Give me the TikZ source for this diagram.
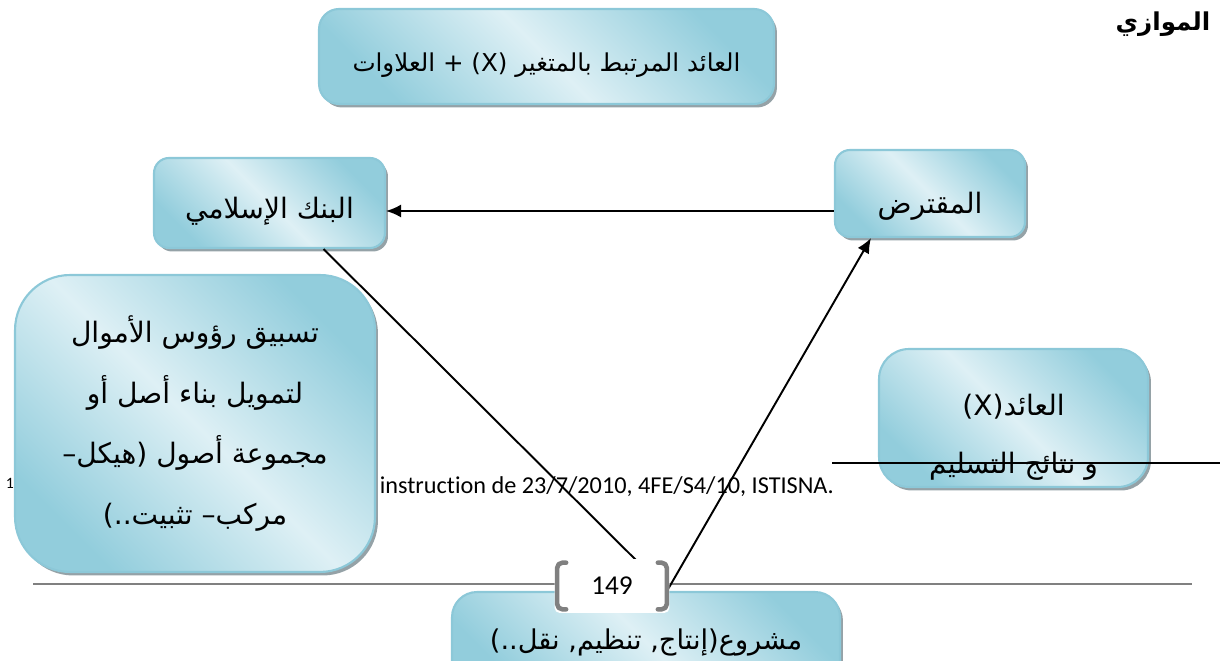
\documentclass[tikz,border=0pt]{standalone}
\usepackage{fontspec}
\setmainfont{Carlito}[Ligatures=CommonOff]
\newfontfamily\arabicfont[Script=Arabic]{DejaVu Sans}
\TeXXeTstate=1
\usetikzlibrary{arrows.meta,calc,shadows}

\definecolor{boxdark}{RGB}{146,205,220}
\definecolor{boxlight}{RGB}{222,240,245}
\definecolor{boxedge}{RGB}{140,200,216}
\definecolor{shadowgray}{RGB}{130,146,152}
\definecolor{rulegray}{RGB}{128,128,128}

% one right-to-left line of Arabic text
\newcommand{\arline}[1]{\beginR #1\endR}

\tikzset{
  panel/.style={rectangle, rounded corners=#1, draw=boxedge, line width=1.2pt,
    top color=boxdark, bottom color=boxdark, middle color=boxlight,
    shading angle=-45,
    drop shadow={shadow xshift=0.06cm, shadow yshift=-0.07cm, fill=shadowgray, opacity=0.85},
    align=center, inner sep=0pt, text=black,
    font=\arabicfont\fontsize{16}{34}\selectfont},
  link/.style={line width=1.1pt, black},
  tip/.style={-{Latex[length=3mm,width=2.6mm]}},
  bracketside/.style={rulegray, line width=2.6pt, line cap=round, line join=round, rounded corners=3pt}
}

\begin{document}
\begin{tikzpicture}[x=0.02cm, y=-0.02cm]
\useasboundingbox (0,0) rectangle (1220,661);
\clip (0,0) rectangle (1220,661);

% heading fragment
\node[font=\arabicfont\bfseries\fontsize{14}{18}\selectfont] (title) at (1163,24) {\arline{الموازي}};

% footnote remnants behind the boxes
\node[font=\fontsize{9}{10}\selectfont] (fnmark) at (10,483) {1};
\node[anchor=base east, font=\fontsize{13.8}{15}\selectfont] (fntext) at (840,494)
  {3 instruction de 23/7/2010, 4FE/S4/10, ISTISNA.};

% page rule
\coordinate (ruleL) at (33,584);
\coordinate (ruleR) at (1192,584);
\draw[rulegray, line width=1.2pt] (ruleL) -- (ruleR);

% boxes
\node[panel=0.4cm, minimum width=9.1cm, minimum height=1.9cm,
      font=\arabicfont\fontsize{14}{30}\selectfont, text height=0.62cm, text depth=0cm] (margin) at (546.5,56.5)
  {\arline{العائد المرتبط بالمتغير (X) + العلاوات}};
\node[panel=0.3cm, minimum width=4.62cm, minimum height=1.8cm, text height=0.62cm, text depth=0cm] (bank) at (269.5,203)
  {\arline{البنك الإسلامي}};
\node[panel=0.3cm, minimum width=3.8cm, minimum height=1.74cm, text height=0.8cm, text depth=0cm] (borrower) at (930,193.5)
  {\arline{المقترض}};
\node[panel=1.1cm, minimum width=7.2cm, minimum height=5.94cm,
      font=\arabicfont\fontsize{16}{34.5}\selectfont] (advance) at (195,423.5)
  {\arline{تسبيق رؤوس الأموال}\\ \arline{لتمويل بناء أصل أو}\\
   \arline{مجموعة أصول (هيكل–}\\ \arline{مركب– تثبيت..)}};
\node[panel=0.6cm, minimum width=5.38cm, minimum height=2.76cm,
      font=\arabicfont\fontsize{16}{33}\selectfont] (yield) at (1013.5,418)
  {\rule{0pt}{1.2cm}\arline{العائد(X)}\\ \arline{و  نتائج التسليم}};
\node[panel=0.5cm, minimum width=7.76cm, minimum height=2.0cm, text depth=0pt,
      font=\arabicfont\fontsize{15.5}{30}\selectfont] (project) at (646,642)
  {\raisebox{0.1cm}{\arline{مشروع(إنتاج, تنظيم, نقل..)}}};

% connectors
\coordinate (bankFoot) at ($(bank.south)+(54,0)$);
\coordinate (projTop) at ($(project.north)+(21,0)$);
\coordinate (borrowerFoot) at ($(borrower.south west)+(37,0)$);
\coordinate (borrowerSide) at ($(borrower.west)+(0,17.5)$);
\draw[link, tip] (borrowerSide) -- (borrowerSide -| bank.east);
\draw[link] (bankFoot) -- (projTop);
\draw[link, tip] (projTop) -- (borrowerFoot);

% footnote separator over the right box
\coordinate (sepL) at (832,463);
\coordinate (sepR) at (1220,463);
\draw[black, line width=0.9pt] (sepL) -- (sepR);

% page number in brackets
\node[fill=white, rounded corners=3pt, minimum width=2.3cm, minimum height=1.08cm,
      font=\fontsize{15.5}{18}\selectfont] (page) at (612,586) {149};
\draw[bracketside] ($(page.north west)+(12,4)$) -- ($(page.north west)+(3,4)$) -- ($(page.south west)+(3,-4)$) -- ($(page.south west)+(12,-4)$);
\draw[bracketside] ($(page.north east)+(-12,4)$) -- ($(page.north east)+(-3,4)$) -- ($(page.south east)+(-3,-4)$) -- ($(page.south east)+(-12,-4)$);
\end{tikzpicture}
\end{document}
